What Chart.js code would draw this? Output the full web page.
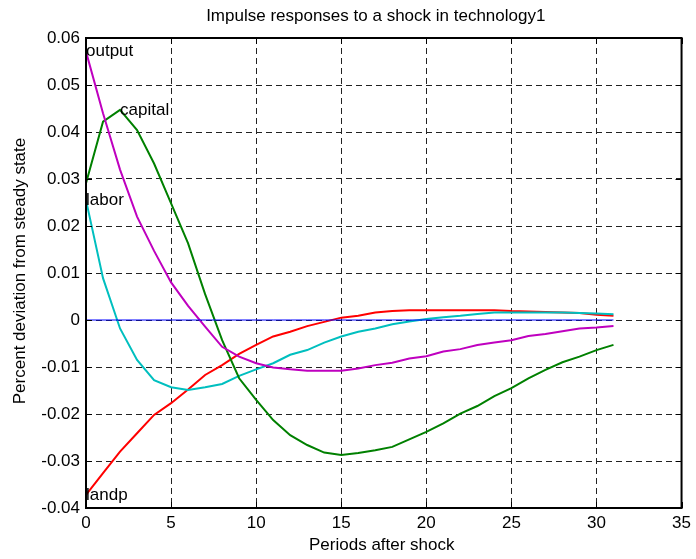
<!DOCTYPE html>
<html>
<head>
<meta charset="utf-8">
<script src="https://cdn.jsdelivr.net/npm/chart.js@4.4.0/dist/chart.umd.min.js"></script>
<style>
  html, body { margin: 0; padding: 0; background: #ffffff; }
  #wrap { width: 696px; height: 559px; position: relative; }
</style>
</head>
<body>
<div id="wrap"><canvas id="c" width="696" height="559"></canvas></div>
<script>
// ---- data ----
const periods = [0,1,2,3,4,5,6,7,8,9,10,11,12,13,14,15,16,17,18,19,20,21,22,23,24,25,26,27,28,29,30,31];
const output = [0.0571,0.0440,0.0320,0.0220,0.0147,0.0080,0.0030,-0.0014,-0.0057,-0.0078,-0.0092,-0.0101,-0.0105,-0.0108,-0.0108,-0.0108,-0.0103,-0.0096,-0.0091,-0.0082,-0.0077,-0.0067,-0.0062,-0.0053,-0.0048,-0.0043,-0.0034,-0.0030,-0.0024,-0.0018,-0.0016,-0.0013];
const capital = [0.0291,0.0422,0.0447,0.0404,0.0333,0.0248,0.0163,0.0055,-0.0043,-0.0124,-0.0170,-0.0213,-0.0245,-0.0266,-0.0282,-0.0287,-0.0283,-0.0277,-0.0270,-0.0254,-0.0238,-0.0220,-0.0199,-0.0183,-0.0162,-0.0145,-0.0124,-0.0106,-0.0090,-0.0078,-0.0064,-0.0053];
const labor = [0.0255,0.0089,-0.0018,-0.0085,-0.0128,-0.0143,-0.0149,-0.0143,-0.0136,-0.0119,-0.0105,-0.0092,-0.0074,-0.0064,-0.0048,-0.0035,-0.0025,-0.0018,-0.0009,-0.0003,0.0002,0.0006,0.0009,0.0013,0.0016,0.0016,0.0016,0.0016,0.0016,0.0015,0.0014,0.0012];
const landp = [-0.0372,-0.0326,-0.0280,-0.0241,-0.0202,-0.0177,-0.0148,-0.0117,-0.0096,-0.0072,-0.0053,-0.0035,-0.0025,-0.0013,-0.0004,0.0005,0.0009,0.0016,0.0019,0.0021,0.0021,0.0021,0.0021,0.0021,0.0021,0.0019,0.0018,0.0017,0.0016,0.0015,0.0011,0.0009];
const steady = periods.map(() => 0);
const seriesNames = ['output','capital','labor','landp'];
const labelAt = [0, 2, 0, 0]; // period index where each series' label is placed
const xTicks = [0,5,10,15,20,25,30,35];
const yTicks = [-0.04,-0.03,-0.02,-0.01,0,0.01,0.02,0.03,0.04,0.05,0.06];
const titleText = 'Impulse responses to a shock in technology1';
const xTitle = 'Periods after shock';
const yTitle = 'Percent deviation from steady state';

const FONT = '"Liberation Sans", Arial, Helvetica, sans-serif';
const toXY = arr => periods.map((p, i) => ({x: p, y: arr[i]}));

const seriesVals = [output, capital, labor, landp];
const seriesColors = ['#bf00bf', '#008000', '#00bfbf', '#ff0000'];

const datasets = [{
  label: 'steady', data: toXY(steady), borderColor: '#0000ff', borderWidth: 1,
  pointRadius: 0, showLine: true, tension: 0
}].concat(seriesVals.map((v, i) => ({
  label: seriesNames[i], data: toXY(v), borderColor: seriesColors[i], borderWidth: 2,
  pointRadius: 0, showLine: true, tension: 0
})));

const decor = {
  id: 'decor',
  afterDatasetsDraw(chart) {
    const ctx = chart.ctx, a = chart.chartArea;
    const xs = chart.scales.x, ys = chart.scales.y;
    ctx.save();
    // series labels
    ctx.fillStyle = '#000';
    ctx.font = '17px ' + FONT;
    ctx.textAlign = 'left';
    ctx.textBaseline = 'middle';
    seriesNames.forEach((n, i) => {
      const k = labelAt[i];
      ctx.fillText(n, xs.getPixelForValue(periods[k]), ys.getPixelForValue(seriesVals[i][k]));
    });
    // box
    ctx.strokeStyle = '#000';
    ctx.lineWidth = 2;
    ctx.setLineDash([]);
    ctx.strokeRect(a.left, a.top, a.right - a.left, a.bottom - a.top);
    // inward ticks
    ctx.lineWidth = 1;
    const tl = 6;
    ctx.beginPath();
    xTicks.forEach(t => {
      const px = Math.round(xs.getPixelForValue(t)) + 0.5;
      ctx.moveTo(px, a.bottom); ctx.lineTo(px, a.bottom - tl);
      ctx.moveTo(px, a.top); ctx.lineTo(px, a.top + tl);
    });
    yTicks.forEach(t => {
      const py = Math.round(ys.getPixelForValue(t)) + 0.5;
      ctx.moveTo(a.left, py); ctx.lineTo(a.left + tl, py);
      ctx.moveTo(a.right, py); ctx.lineTo(a.right - tl, py);
    });
    ctx.stroke();
    // titles
    ctx.font = '17px ' + FONT;
    ctx.textAlign = 'center';
    ctx.textBaseline = 'middle';
    ctx.fillText(titleText, (a.left + a.right) / 2 - 8, 16);
    ctx.fillText(xTitle, (a.left + a.right) / 2 - 2, 545);
    ctx.translate(20, (a.top + a.bottom) / 2 - 2);
    ctx.rotate(-Math.PI / 2);
    ctx.fillText(yTitle, 0, 0);
    ctx.restore();
  }
};

new Chart(document.getElementById('c'), {
  type: 'scatter',
  data: { datasets },
  options: {
    responsive: false,
    animation: false,
    devicePixelRatio: 1,
    layout: { padding: { top: 38, right: 13, left: 0, bottom: 0 } },
    plugins: { legend: { display: false }, tooltip: { enabled: false }, title: { display: false } },
    scales: {
      x: {
        type: 'linear', min: 0, max: 35,
        afterBuildTicks: s => { s.ticks = xTicks.map(v => ({value: v})); },
        afterFit: s => { s.height = 51; },
        ticks: { color: '#000', font: { size: 17, family: FONT }, padding: 5, maxRotation: 0 },
        grid: { color: '#222', lineWidth: 1, drawTicks: false },
        border: { display: false, dash: [6, 4] }
      },
      y: {
        type: 'linear', min: -0.04, max: 0.06,
        afterBuildTicks: s => { s.ticks = yTicks.map(v => ({value: v})); },
        afterFit: s => { s.width = 86; },
        ticks: {
          color: '#000', font: { size: 17, family: FONT }, padding: 6,
          callback: v => (Math.abs(v) < 1e-9 ? '0' : v.toFixed(2))
        },
        grid: { color: '#222', lineWidth: 1, drawTicks: false },
        border: { display: false, dash: [6, 4] }
      }
    }
  },
  plugins: [decor]
});
</script>
</body>
</html>
